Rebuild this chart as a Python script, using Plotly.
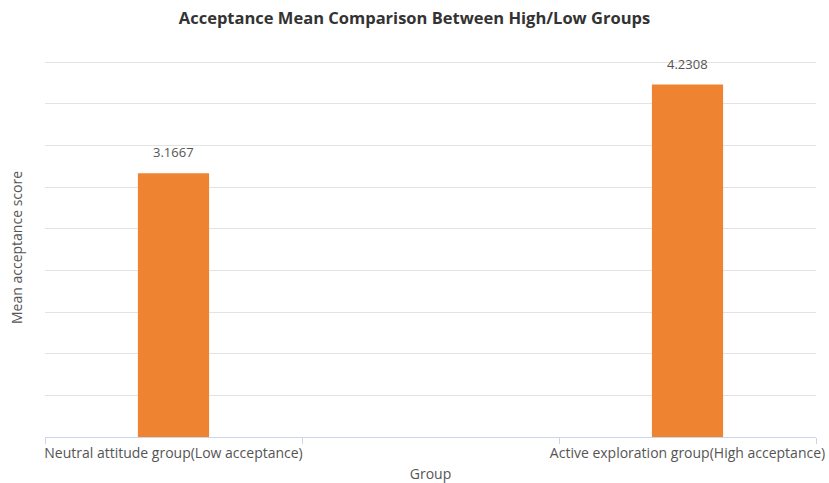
import plotly.graph_objects as go

categories = ["Neutral attitude group(Low acceptance)", " ", "Active exploration group(High acceptance)"]
bar_categories = ["Neutral attitude group(Low acceptance)", "Active exploration group(High acceptance)"]
values = [3.1667, 4.2308]
value_labels = ["3.1667", "4.2308"]

fig = go.Figure()
fig.add_trace(go.Bar(
    x=bar_categories, y=values, width=0.277,
    marker=dict(color="#EE8432", line=dict(width=0)),
    hoverinfo="x+y",
))
for c, v, t in zip(bar_categories, values, value_labels):
    fig.add_annotation(x=c, y=v, text=t, showarrow=False, yshift=21,
                       font=dict(size=13, color="#555555", family="Open Sans"))

fig.update_layout(
    width=829, height=483,
    margin=dict(l=45, r=13, t=58, b=46),
    paper_bgcolor="white", plot_bgcolor="white",
    showlegend=False,
    title=dict(text="<b>Acceptance Mean Comparison Between High/Low Groups</b>",
               x=0.5, xanchor="center", y=0.963, yanchor="middle",
               font=dict(size=16.5, color="#333333", family="Open Sans")),
    font=dict(family="Open Sans", color="#555555"),
)
fig.update_xaxes(
    type="category", categoryorder="array", categoryarray=categories,
    range=[-0.5, 2.5], tickson="boundaries", ticks="outside", ticklen=6,
    tickcolor="#ccd6eb", showline=True, linecolor="#ccd6eb", linewidth=1,
    showgrid=False, tickangle=0, tickfont=dict(size=14, color="#555555"), automargin=False,
    ticklabelstandoff=3,
    title=dict(text="Group", font=dict(size=14, color="#555555"), standoff=18),
)
fig.update_yaxes(
    range=[0, 4.55], tickvals=[0.5, 1, 1.5, 2, 2.5, 3, 3.5, 4, 4.5], showticklabels=False,
    gridcolor="#e3e3e3", zeroline=False, showline=False, automargin=False,
    title=dict(text="Mean acceptance score", font=dict(size=14, color="#555555"), standoff=18),
)
fig.write_html("out.html")
